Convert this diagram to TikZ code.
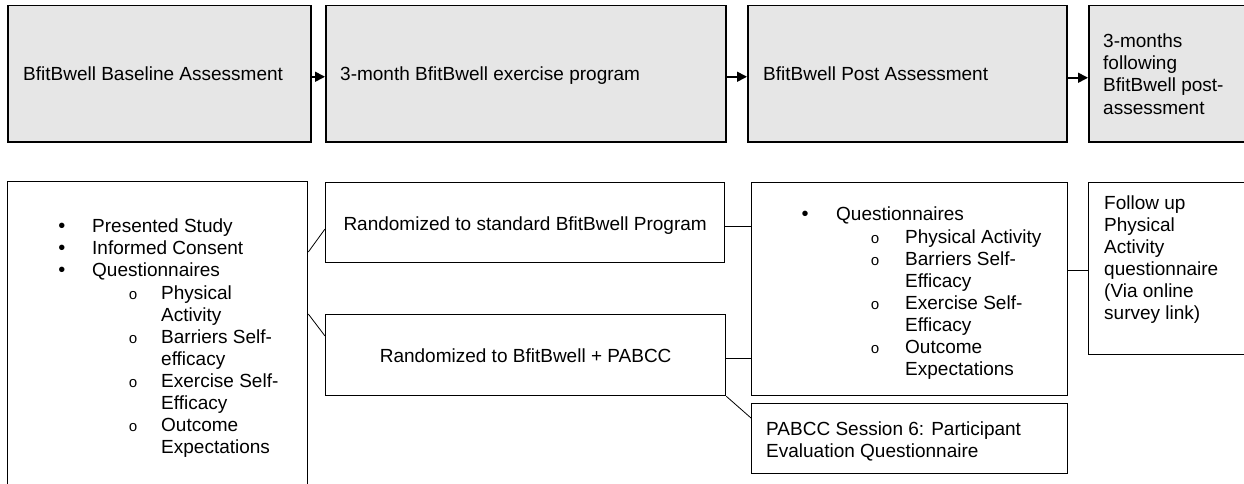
\documentclass[tikz,border=0pt]{standalone}
\usepackage{fontspec}
\setmainfont{Liberation Sans}
\newfontfamily\monofnt{Liberation Mono}
\usetikzlibrary{arrows.meta}
\definecolor{boxgray}{HTML}{E6E6E6}
\begin{document}
\begin{tikzpicture}[x=1pt,y=-1pt,
  box/.style={draw=black,line width=1.3pt,inner sep=0pt,anchor=north west},
  topbox/.style={box,fill=boxgray,line width=1.5pt},
  txt/.style={anchor=base west,inner sep=0pt,font=\fontsize{19}{22}\selectfont},
  ctxt/.style={anchor=base,inner sep=0pt,font=\fontsize{19}{22}\selectfont},
  bul/.style={anchor=base,inner sep=0pt,font=\fontsize{20}{22}\selectfont},
  subbul/.style={anchor=base,inner sep=0pt,font=\monofnt\fontsize{15}{22}\selectfont},
  link/.style={line width=0.8pt},
  arr/.style={line width=1.6pt,-{Triangle[length=10pt,width=10pt]}}]
\useasboundingbox (0,0) rectangle (1244,484);

% top row
\node[topbox,minimum width=303pt,minimum height=136pt] (b1) at (7,5) {};
\node[topbox,minimum width=400pt,minimum height=136pt] (b2) at (325,5) {};
\node[topbox,minimum width=319pt,minimum height=136pt] (b3) at (747,5) {};
\node[topbox,minimum width=175pt,minimum height=136pt] (b4) at (1088,5) {};
\node[txt] (tb1) at (23,81) {BfitBwell Baseline Assessment};
\node[txt] (tb2) at (340,81) {3-month BfitBwell exercise program};
\node[txt] (tb3) at (763,81) {BfitBwell Post Assessment};
\node[txt] (tb4a) at (1103,48) {3-months};
\node[txt] (tb4b) at (1103,70) {following};
\node[txt] (tb4c) at (1103,92) {BfitBwell post-};
\node[txt] (tb4d) at (1103,114) {assessment};
\draw[arr] ([yshift=-3pt]b1.east) -- ([yshift=-3pt]b2.west);
\draw[arr] ([yshift=-3pt]b2.east) -- ([yshift=-3pt]b3.west);
\draw[arr] ([yshift=-4pt]b3.east) -- ([yshift=-4pt]b4.west);

% bottom row boxes
\node[box,minimum width=300pt,minimum height=330pt] (lbox) at (7,181) {};
\node[box,minimum width=399pt,minimum height=80pt] (r1) at (325,182) {};
\node[box,minimum width=400pt,minimum height=81pt] (r2) at (325,314) {};
\node[box,minimum width=316pt,minimum height=213pt] (quest) at (751,182) {};
\node[box,minimum width=316pt,minimum height=70pt] (pabcc) at (751,403) {};
\node[box,minimum width=175pt,minimum height=172pt] (follow) at (1088,182) {};

% left list
\node[bul] (lb1) at (62,232) {•};
\node[txt] (l1) at (92,232) {Presented Study};
\node[bul] (lb2) at (62,254) {•};
\node[txt] (l2) at (92,254) {Informed Consent};
\node[bul] (lb3) at (62,276) {•};
\node[txt] (l3) at (92,276) {Questionnaires};
\node[subbul] (ls1) at (133,299) {o};
\node[txt] (l4) at (161,299) {Physical};
\node[txt] (l5) at (161,321) {Activity};
\node[subbul] (ls2) at (133,343) {o};
\node[txt] (l6) at (161,343) {Barriers Self-};
\node[txt] (l7) at (161,365) {efficacy};
\node[subbul] (ls3) at (133,387) {o};
\node[txt] (l8) at (161,387) {Exercise Self-};
\node[txt] (l9) at (161,409) {Efficacy};
\node[subbul] (ls4) at (133,431) {o};
\node[txt] (l10) at (161,431) {Outcome};
\node[txt] (l11) at (161,453) {Expectations};

% randomized boxes text
\node[ctxt] (tr1) at (r1.center |- 0,230) {Randomized to standard BfitBwell Program};
\node[ctxt] (tr2) at (r2.center |- 0,362) {Randomized to BfitBwell + PABCC};

% questionnaire list
\node[bul] (qb1) at (805,220) {•};
\node[txt] (q1) at (836,220) {Questionnaires};
\node[subbul] (qs1) at (875,243) {o};
\node[txt] (q2) at (905,243) {Physical Activity};
\node[subbul] (qs2) at (875,265) {o};
\node[txt] (q3) at (905,265) {Barriers Self-};
\node[txt] (q4) at (905,287) {Efficacy};
\node[subbul] (qs3) at (875,309) {o};
\node[txt] (q5) at (905,309) {Exercise Self-};
\node[txt] (q6) at (905,331) {Efficacy};
\node[subbul] (qs4) at (875,353) {o};
\node[txt] (q7) at (905,353) {Outcome};
\node[txt] (q8) at (905,375) {Expectations};

% PABCC text
\node[txt] (p1) at (766,435) {PABCC Session 6: Participant};
\node[txt] (p2) at (766,457) {Evaluation Questionnaire};

% follow up text
\node[txt] (f1) at (1104,209) {Follow up};
\node[txt] (f2) at (1104,231) {Physical};
\node[txt] (f3) at (1104,253) {Activity};
\node[txt] (f4) at (1104,275) {questionnaire};
\node[txt] (f5) at (1104,297) {(Via online};
\node[txt] (f6) at (1104,319) {survey link)};

% connectors
\draw[link] ([yshift=-71pt]lbox.north east) -- ([yshift=-47pt]r1.north west);
\draw[link] ([yshift=-133pt]lbox.north east) -- ([yshift=-22pt]r2.north west);
\draw[link] ([yshift=-4pt]r1.east) -- ([yshift=-4pt]r1.east -| quest.west);
\draw[link] ([yshift=-3.5pt]r2.east) -- ([yshift=-3.5pt]r2.east -| quest.west);
\draw[link] (r2.south east) -- ([yshift=-15pt]pabcc.north west);
\draw[link] ([yshift=18.5pt]quest.east) -- ([yshift=18.5pt]quest.east -| follow.west);
\end{tikzpicture}
\end{document}
